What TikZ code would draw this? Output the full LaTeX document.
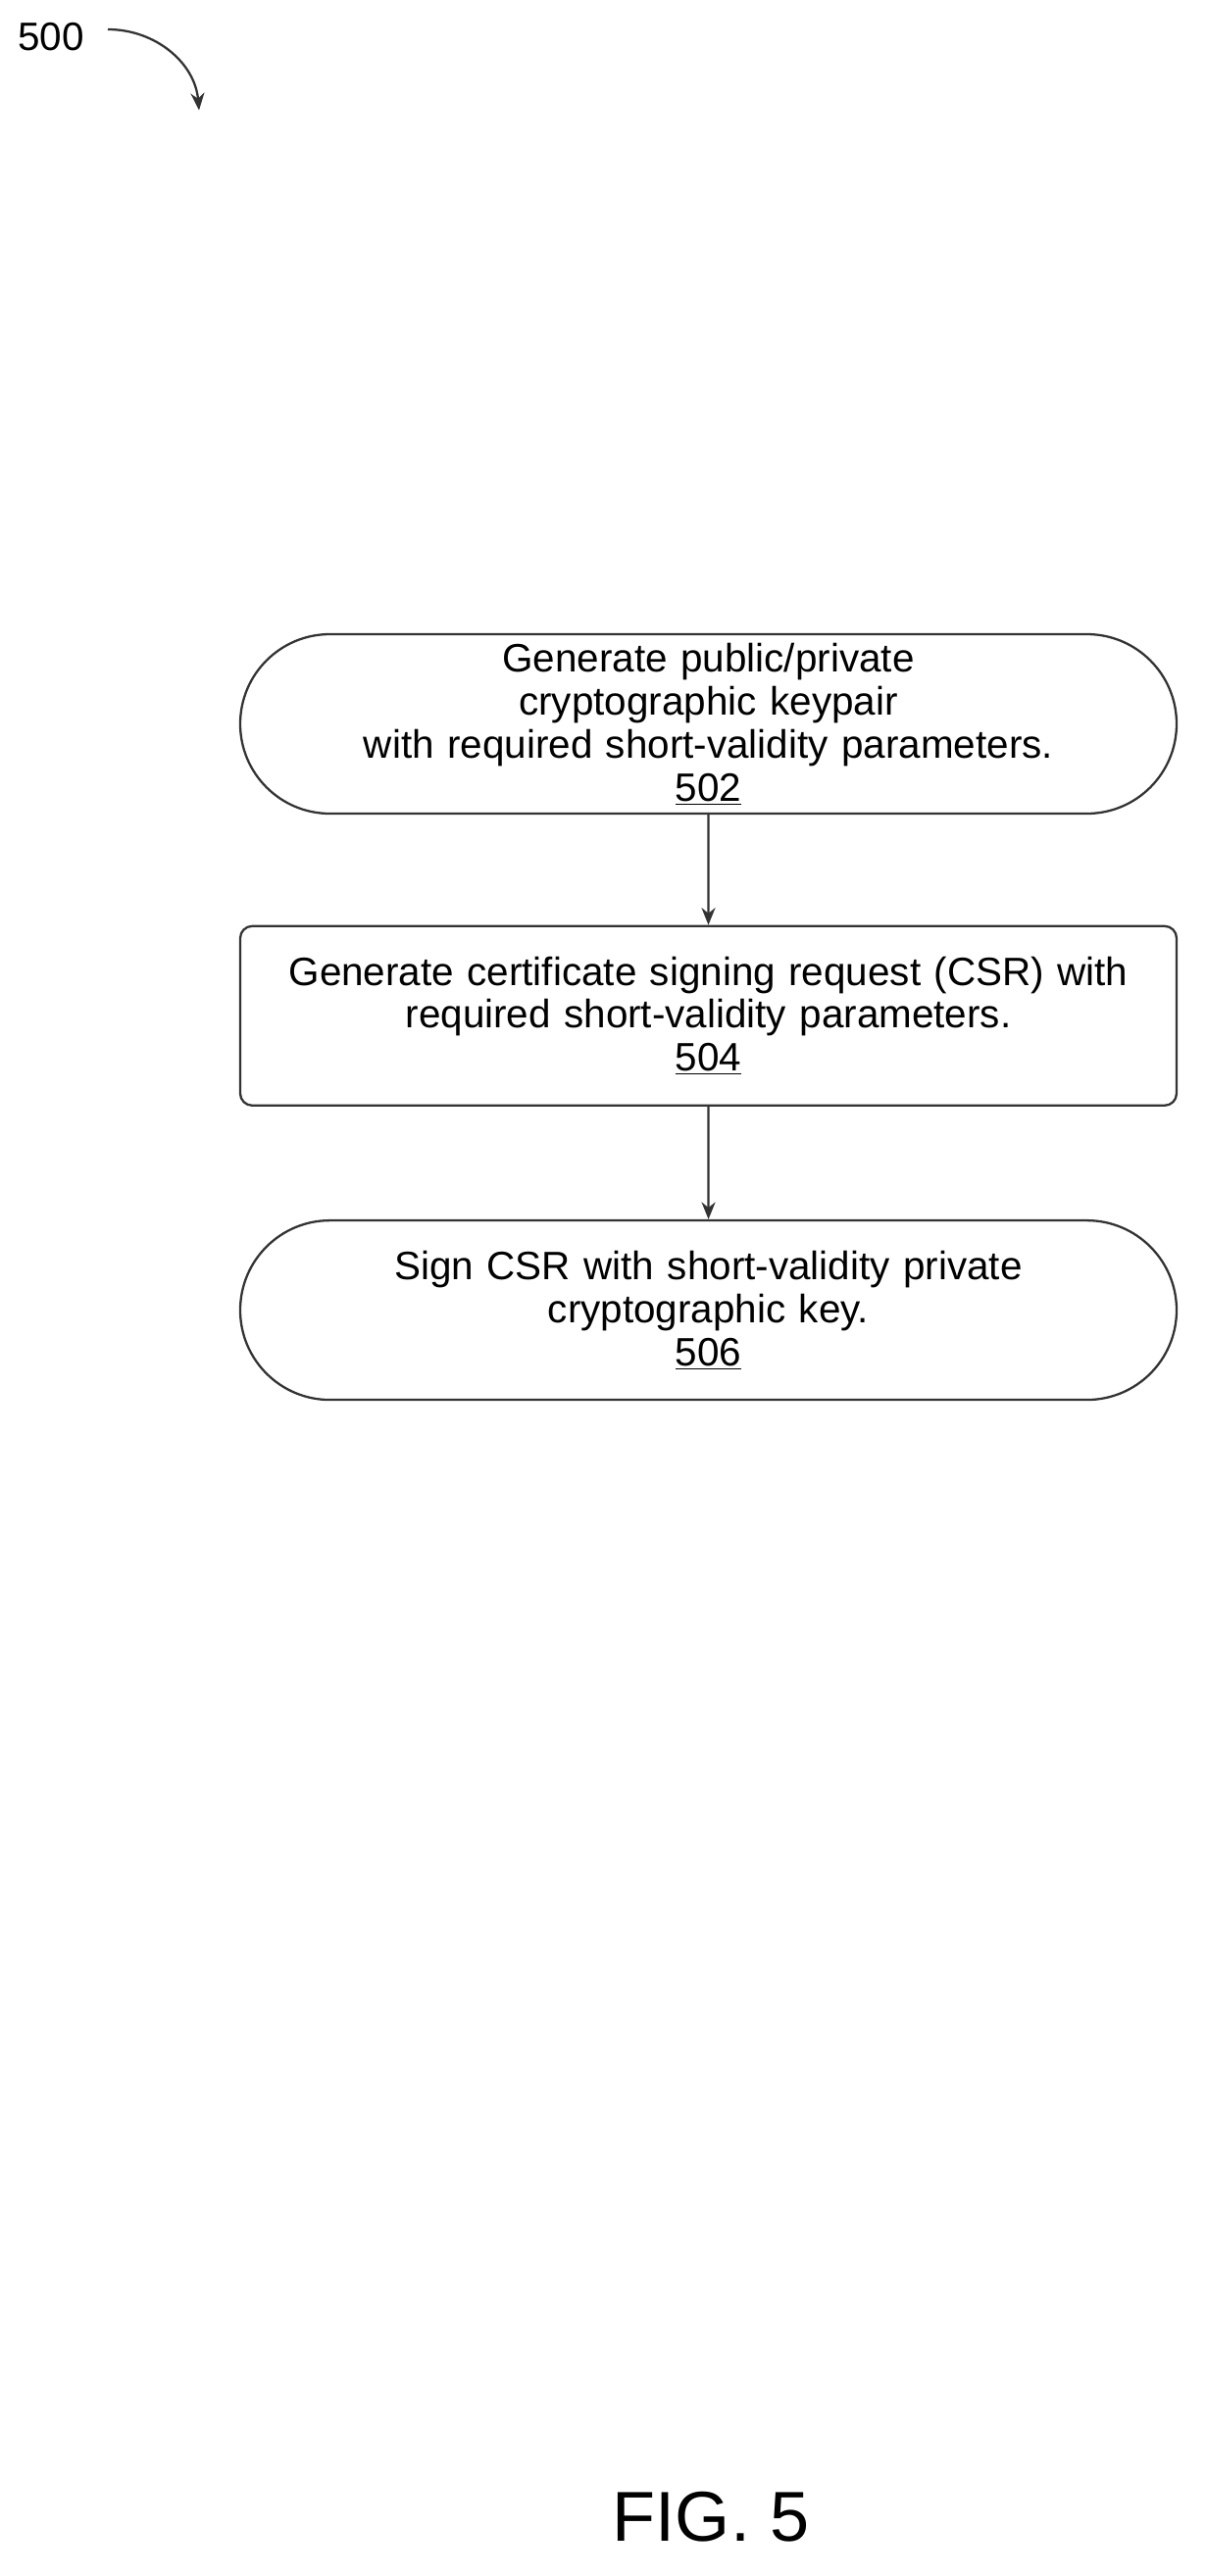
\documentclass[tikz,border=0pt]{standalone}
\usepackage{fontspec}
\setmainfont{Liberation Sans}
\usetikzlibrary{shapes.misc, arrows.meta, positioning}

\begin{document}
\begin{tikzpicture}[
        node distance=2.2cm,
        font=\fontsize{23}{25}\selectfont,
        >={Stealth[length=10pt, width=8pt]},
        % styles
        baseStep/.style={draw=black!80, line width=1.3pt, align=center, text width=18.5cm, minimum width=19.1cm, minimum height=3.66cm, inner sep=0pt},
        stepTerm/.style={baseStep, rounded rectangle, text width=16cm},
        stepProc/.style={baseStep, rectangle, rounded corners=7pt},
        conn/.style={->, line width=1.3pt, draw=black!80}
    ]
    \useasboundingbox (0,0) rectangle (24.58,-52.56);

    % reference label
    \node (ref) at (1.04,-0.75) {500};
    \coordinate (refA) at (2.2,-0.6);
    \coordinate (refB) at (4.06,-2.25);
    \draw [conn] (refA) to[out=0, in=95] (refB);

    % steps
    \node [stepTerm] (keypair) at (14.45,-14.77) {Generate public/private cryptographic keypair\\with required short-validity parameters.\\\underline{502}};
    \node [stepProc, below=2.25cm of keypair] (csr) {Generate certificate signing request (CSR) with\\required short-validity parameters.\\\underline{504}};
    \node [stepTerm, below=2.3cm of csr] (sign) {Sign CSR with short-validity private\\cryptographic key.\\\underline{506}};

    % connections
    \draw [conn] (keypair) -- (csr);
    \draw [conn] (csr) -- (sign);

    % caption
    \node [font=\fontsize{41}{45}\selectfont] (fig) at (14.5,-51.35) {FIG. 5};
\end{tikzpicture}
\end{document}
